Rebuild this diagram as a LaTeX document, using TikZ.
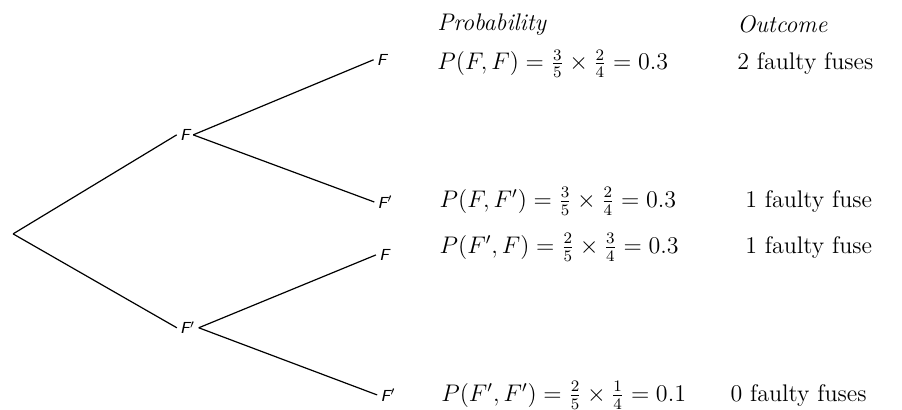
\documentclass[tikz,border=0pt]{standalone}
\usepackage{amsmath,amssymb}

\tikzset{
  outcome/.style={font=\sffamily\itshape\footnotesize, inner sep=1.5pt},
  branch/.style={semithick},
  rowtext/.style={anchor=west, inner sep=0pt, font=\large}
}

\begin{document}
\begin{tikzpicture}
  \useasboundingbox (0,0) rectangle (15.85,7.2);
  % tree: root, first draw, second draw
  \coordinate (root) at (0.23,3.09);
  \node[outcome] (f)  at (3.25,4.83) {F};
  \node[outcome] (fp) at (3.30,1.44) {F$'$};
  \node[outcome] (ff)   at (6.71,6.15) {F};
  \node[outcome] (ffp)  at (6.77,3.65) {F$'$};
  \node[outcome] (fpf)  at (6.75,2.72) {F};
  \node[outcome] (fpfp) at (6.82,0.26) {F$'$};
  % branches
  \draw[branch] (root) -- (f.west);
  \draw[branch] (root) -- (fp.west);
  \draw[branch] (f.east) -- (ff.west);
  \draw[branch] (f.east) -- (ffp.west);
  \draw[branch] (fp.east) -- (fpf.west);
  \draw[branch] (fp.east) -- (fpfp.west);
  % column headings
  \node[rowtext] (prob) at (7.68,6.77) {\itshape Probability};
  \node[rowtext] (out)  at (12.95,6.77) {\itshape Outcome};
  % probabilities
  \node[rowtext] (p1) at (7.68,6.08) {$P(F,F)=\frac{3}{5}\times\frac{2}{4}=0.3$};
  \node[rowtext] (p2) at (7.72,3.66) {$P(F,F')=\frac{3}{5}\times\frac{2}{4}=0.3$};
  \node[rowtext] (p3) at (7.72,2.85) {$P(F',F)=\frac{2}{5}\times\frac{3}{4}=0.3$};
  \node[rowtext] (p4) at (7.75,0.25) {$P(F',F')=\frac{2}{5}\times\frac{1}{4}=0.1$};
  % outcomes
  \node[rowtext] (o1) at (12.95,6.08) {2 faulty fuses};
  \node[rowtext] (o2) at (13.09,3.66) {1 faulty fuse};
  \node[rowtext] (o3) at (13.09,2.85) {1 faulty fuse};
  \node[rowtext] (o4) at (12.83,0.25) {0 faulty fuses};
\end{tikzpicture}
\end{document}
